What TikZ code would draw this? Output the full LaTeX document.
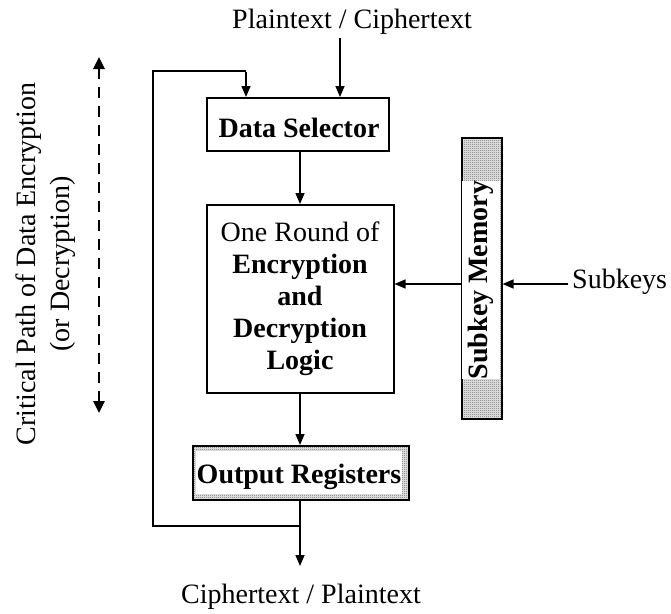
\documentclass[tikz,border=0pt]{standalone}
\usepackage{fontspec}
\setmainfont{Liberation Serif}
\usetikzlibrary{arrows.meta,patterns}
\pgfdeclarepatternformonly{stipple}{\pgfpointorigin}{\pgfqpoint{2pt}{2pt}}{\pgfqpoint{2pt}{2pt}}{%
  \pgfpathrectangle{\pgfpointorigin}{\pgfqpoint{1pt}{1pt}}\pgfusepath{fill}}
\begin{document}
\begin{tikzpicture}[x=1pt,y=-1pt,
  font=\fontsize{28}{32}\selectfont,
  conn/.style={line width=1.5pt,-{Triangle[length=11pt,width=9pt]}},
  wire/.style={line width=1.5pt},
  blk/.style={draw,line width=1.5pt,inner sep=0pt},
  shaded/.style={blk,preaction={fill=gray!30},pattern=stipple,pattern color=black!75},
  lbl/.style={inner sep=1pt},
  bold/.style={font=\fontsize{28}{32}\selectfont\bfseries}]
\useasboundingbox (0,0) rectangle (671,613);
% boxes
\node[blk,minimum width=182pt,minimum height=53pt,anchor=north west] (ds) at (206,97) {};
\node[bold,anchor=base] (dst) at (299,137) {Data Selector};
\node[blk,minimum width=187pt,minimum height=188pt,anchor=north west] (rd) at (206,204) {};
\node[align=center,font=\fontsize{28}{32}\selectfont] (rdt) at (300,299) {One Round of\\\textbf{Encryption}\\\textbf{and}\\\textbf{Decryption}\\\textbf{Logic}};
\node[shaded,minimum width=40pt,minimum height=281pt,anchor=north west] (sk) at (461,137) {};
\node[bold,fill=white,rotate=90,inner xsep=0pt,inner ysep=1pt,minimum height=38pt] (skt) at (481,280) {Subkey Memory};
\node[shaded,minimum width=216pt,minimum height=54pt,anchor=north west] (or) at (192,445) {};
\node[bold,fill=white,anchor=base,inner xsep=1pt,inner ysep=4pt,text height=28pt,text depth=7pt] (ort) at (299,483) {Output Registers};
% texts
\node[lbl,anchor=base] (pt) at (352,28) {Plaintext / Ciphertext};
\node[lbl,anchor=base] (ct) at (301,603) {Ciphertext / Plaintext};
\node[lbl,anchor=west] (sub) at (571,282) {Subkeys};
\node[lbl,rotate=90,align=center,font=\fontsize{28}{34}\selectfont] (cp) at (46,264) {Critical Path of Data Encryption\\(or Decryption)};
% coordinates
\coordinate (ptin) at (340,38);
\coordinate (subin) at (568,284);
\coordinate (fbl) at (153,526);
\coordinate (fbt) at (153,71);
\coordinate (fbr) at (246,71);
\coordinate (ctout) at (300,566);
\coordinate (dtop) at (99,57);
\coordinate (dbot) at (99,413);
% connectors
\draw[conn] (ptin) -- (ptin |- ds.north);
\draw[conn] (ds.south -| 300,0) -- (rd.north -| 300,0);
\draw[conn] (sk.west |- subin) -- (rd.east |- subin);
\draw[conn] (subin) -- (sk.east |- subin);
\draw[conn] (rd.south -| 300,0) -- (or.north -| 300,0);
\draw[conn] (or.south -| 300,0) -- (ctout);
\draw[wire,line join=miter] (300,526) -- (fbl) -- (fbt) -- (fbr);
\draw[conn] ([yshift=-0.75pt]fbr) -- (fbr |- ds.north);
\draw[line width=2.6pt,dash pattern=on 11pt off 8pt,{Triangle[length=12pt,width=11pt]}-{Triangle[length=12pt,width=11pt]}] (dtop) -- (dbot);
\end{tikzpicture}
\end{document}
